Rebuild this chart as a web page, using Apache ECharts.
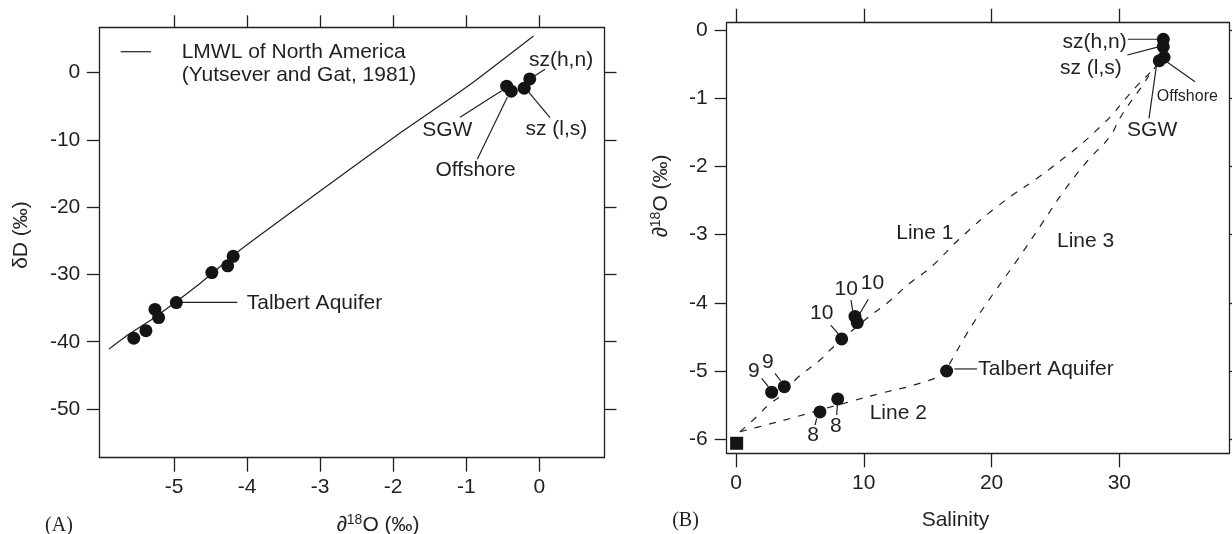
<!DOCTYPE html>
<html><head><meta charset="utf-8">
<script src="https://cdn.jsdelivr.net/npm/echarts@6/dist/echarts.min.js"></script>
<style>html,body{margin:0;padding:0;background:#fff}#c{width:1232px;height:534px}</style>
</head><body><div id="c"></div>
<script>
// ---------- Panel A: dD vs d18O ----------
const lmwlO18 = [-5.89, -5.6, -5.28, -4.64, -4.1, -3.0, -1.91, -0.99, -0.08];
const lmwlD   = [-41.1, -38.75, -36.5, -31.3, -26.4, -17.6, -9.0, -2.1, 5.46];
const sampleO18 = [-5.55, -5.384, -5.26, -5.21, -4.968, -4.482, -4.265, -4.19, -0.447, -0.384, -0.207, -0.131];
const sampleD   = [-39.48, -38.35, -35.2, -36.4, -34.18, -29.72, -28.72, -27.3, -2.0, -2.75, -2.3, -0.92];
const xTicksA = [-5, -4, -3, -2, -1, 0];
const yTicksA = [0, -10, -20, -30, -40, -50];

// ---------- Panel B: d18O vs salinity ----------
const salinity = [2.79, 3.78, 8.27, 9.31, 9.49, 6.57, 7.96, 16.48, 33.44, 33.44, 33.13, 33.5];
const o18B     = [-5.31, -5.23, -4.53, -4.20, -4.29, -5.60, -5.41, -5.0, -0.136, -0.245, -0.45, -0.40];
const freshSalinity = [0.05];
const freshO18 = [-6.06];
const line1Sal = [0.31, 1.62, 2.53, 3.58, 4.75, 6.57, 7.49, 10.23, 11.79, 13.62, 15.3, 17.4, 20.5, 24.6, 28.5, 31.23, 32.53, 33.1];
const line1O   = [-5.89, -5.67, -5.50, -5.35, -5.11, -4.84, -4.67, -4.23, -4.01, -3.71, -3.47, -3.08, -2.58, -2.03, -1.42, -0.85, -0.6, -0.48];
const line2Sal = [0.31, 2.4, 4.75, 6.6, 8.92, 11.27, 13.88, 15.97];
const line2O   = [-5.89, -5.79, -5.67, -5.57, -5.45, -5.33, -5.21, -5.08];
const line3Sal = [16.7, 18.4, 20.2, 22.1, 23.9, 25.7, 27.6, 29.27, 30.05, 30.97, 31.75, 32.53, 33.1];
const line3O   = [-4.9, -4.35, -3.85, -3.35, -2.85, -2.35, -1.9, -1.56, -1.29, -1.03, -0.83, -0.61, -0.48];
const xTicksB = [0, 10, 20, 30];
const yTicksB = [0, -1, -2, -3, -4, -5, -6];

const FONT = '"Liberation Sans", Arial, Helvetica, sans-serif';
const SERIF = '"Liberation Serif", "Times New Roman", serif';
const INK = '#231f20';
const FS = 21;
const zip = (a, b) => a.map((v, i) => [v, b[i]]);

function mkAxis(gridIndex, position, min, max, ticks, showLabel, tickLen) {
  return {
    type: 'value', gridIndex, position, min, max, scale: true,
    axisLine: { show: true, onZero: false, lineStyle: { color: INK, width: 1.3 } },
    axisTick: { show: true, inside: false, length: tickLen, customValues: ticks, lineStyle: { color: INK, width: 1.3 } },
    axisLabel: { show: showLabel, customValues: ticks, color: INK, fontSize: FS, fontFamily: FONT, margin: 19 },
    splitLine: { show: false }
  };
}

const chart = echarts.init(document.getElementById('c'), null, { renderer: 'canvas' });

const dot = { color: '#141414', opacity: 1 };
const option = {
  animation: false,
  backgroundColor: '#fff',
  grid: [
    { left: 99.3, top: 27.3, width: 504.7, height: 430.4 },
    { left: 726.7, top: 22.7, width: 502.8, height: 430.6 }
  ],
  xAxis: [
    mkAxis(0, 'bottom', -6.022, 0.885, xTicksA, true, 14),
    mkAxis(0, 'top', -6.022, 0.885, xTicksA, false, 12),
    mkAxis(1, 'bottom', -0.728, 38.62, xTicksB, true, 14),
    mkAxis(1, 'top', -0.728, 38.62, xTicksB, false, 14)
  ],
  yAxis: [
    mkAxis(0, 'left', -57.24, 6.75, yTicksA, true, 12.5),
    mkAxis(0, 'right', -57.24, 6.75, yTicksA, false, 12.5),
    mkAxis(1, 'left', -6.207, 0.107, yTicksB, true, 12),
    mkAxis(1, 'right', -6.207, 0.107, yTicksB, false, 12)
  ],
  series: [
    { type: 'line', xAxisIndex: 0, yAxisIndex: 0, data: zip(lmwlO18, lmwlD), showSymbol: false, smooth: 0.2,
      lineStyle: { color: INK, width: 1.2 }, silent: true, z: 2 },
    { type: 'scatter', xAxisIndex: 0, yAxisIndex: 0, data: zip(sampleO18, sampleD), symbol: 'circle', symbolSize: 13,
      itemStyle: dot, z: 3 },
    { type: 'line', xAxisIndex: 2, yAxisIndex: 2, data: zip(line1Sal, line1O), showSymbol: false, smooth: 0.5,
      lineStyle: { color: INK, width: 1.2, type: [7, 8] }, z: 2 },
    { type: 'line', xAxisIndex: 2, yAxisIndex: 2, data: zip(line2Sal, line2O), showSymbol: false, smooth: 0.4,
      lineStyle: { color: INK, width: 1.2, type: [7, 8] }, z: 2 },
    { type: 'line', xAxisIndex: 2, yAxisIndex: 2, data: zip(line3Sal, line3O), showSymbol: false, smooth: 0.4,
      lineStyle: { color: INK, width: 1.2, type: [7, 8] }, z: 2 },
    { type: 'scatter', xAxisIndex: 2, yAxisIndex: 2, data: zip(salinity, o18B), symbol: 'circle', symbolSize: 13,
      itemStyle: dot, z: 3 },
    { type: 'scatter', xAxisIndex: 2, yAxisIndex: 2, data: zip(freshSalinity, freshO18), symbol: 'rect', symbolSize: 13,
      itemStyle: dot, z: 3 }
  ]
};
chart.setOption(option);

// ---------- annotations (positions in data coordinates of each panel) ----------
const annotations = [
  // panel A
  { g: 0, text: 'sz(h,n)', at: [0.297, 1.89], align: 'center', leader: [[0.078, 0.51], [-0.082, -0.59]] },
  { g: 0, text: 'sz (l,s)', at: [0.233, -8.42], align: 'center', leader: [[0.146, -6.69], [-0.151, -2.82]] },
  { g: 0, text: 'SGW', at: [-1.26, -8.52], align: 'center', leader: [[-1.085, -6.63], [-0.515, -2.68]] },
  { g: 0, text: 'Offshore', at: [-0.873, -14.57], align: 'center', leader: [[-0.849, -12.88], [-0.438, -3.66]] },
  { g: 0, text: 'Talbert Aquifer', at: [-4.004, -34.2], align: 'left', leader: [[-4.895, -34.14], [-4.134, -34.14]] },
  { g: 0, text: 'LMWL of North America', at: [-4.895, 3.12], align: 'left', leader: [[-5.729, 3.12], [-5.314, 3.12]] },
  { g: 0, text: '(Yutsever and Gat, 1981)', at: [-4.895, -0.34], align: 'left' },
  // panel B
  { g: 1, text: 'sz(h,n)', at: [30.58, -0.172], align: 'right', leader: [[30.66, -0.136], [33.13, -0.136]] },
  { g: 1, text: 'sz (l,s)', at: [30.19, -0.562], align: 'right', leader: [[30.63, -0.367], [33.13, -0.245]] },
  { g: 1, text: 'Offshore', at: [32.93, -0.978], align: 'left', size: 16, leader: [[33.71, -0.465], [35.92, -0.758]] },
  { g: 1, text: 'SGW', at: [32.57, -1.466], align: 'center', leader: [[32.93, -0.488], [32.32, -1.295]] },
  { g: 1, text: 'Line 1', at: [14.78, -2.977], align: 'center' },
  { g: 1, text: 'Line 3', at: [27.36, -3.091], align: 'center' },
  { g: 1, text: 'Line 2', at: [12.70, -5.613], align: 'center' },
  { g: 1, text: 'Talbert Aquifer', at: [18.96, -4.97], align: 'left', leader: [[17.1, -4.97], [18.86, -4.97]] },
  { g: 1, text: '10', at: [6.71, -4.154], align: 'center', leader: [[7.41, -4.326], [8.01, -4.457]] },
  { g: 1, text: '10', at: [8.62, -3.80], align: 'center', leader: [[9.0, -3.959], [9.18, -4.179]] },
  { g: 1, text: '10', at: [10.68, -3.714], align: 'center', leader: [[10.35, -3.949], [9.70, -4.154]] },
  { g: 1, text: '9', at: [1.39, -4.996], align: 'center', leader: [[2.01, -5.107], [2.53, -5.23]] },
  { g: 1, text: '9', at: [2.50, -4.864], align: 'center', leader: [[3.05, -5.034], [3.50, -5.147]] },
  { g: 1, text: '8', at: [6.04, -5.938], align: 'center', leader: [[6.18, -5.792], [6.32, -5.694]] },
  { g: 1, text: '8', at: [7.81, -5.806], align: 'center', leader: [[7.88, -5.645], [7.93, -5.499]] }
];

const graphics = [];
annotations.forEach(a => {
  const p = chart.convertToPixel({ gridIndex: a.g }, a.at);
  graphics.push({ type: 'text', x: p[0], y: p[1], z: 10, silent: true,
    style: { text: a.text, fill: INK, fontSize: a.size || FS, fontFamily: FONT, align: a.align, verticalAlign: 'middle' } });
  if (a.leader) {
    const p1 = chart.convertToPixel({ gridIndex: a.g }, a.leader[0]);
    const p2 = chart.convertToPixel({ gridIndex: a.g }, a.leader[1]);
    graphics.push({ type: 'line', z: 9, silent: true, shape: { x1: p1[0], y1: p1[1], x2: p2[0], y2: p2[1] },
      style: { stroke: INK, lineWidth: 1.2 } });
  }
});

// axis titles and panel tags
const rich = { n: { fontSize: FS, fontFamily: FONT, fill: INK, verticalAlign: 'bottom', lineHeight: 25 },
               s: { fontSize: 14, fontFamily: FONT, fill: INK, verticalAlign: 'bottom', lineHeight: 25, padding: [0, 0, 8, 0] } };
graphics.push(
  { type: 'text', x: 378, y: 523, silent: true, style: { text: '{n|∂}{s|18}{n|O (‰)}', rich, align: 'center', verticalAlign: 'middle' } },
  { type: 'text', x: 955.5, y: 520, silent: true, style: { text: 'Salinity', fill: INK, fontSize: FS, fontFamily: FONT, align: 'center', verticalAlign: 'middle' } },
  { type: 'text', x: 21, y: 235, rotation: Math.PI / 2, silent: true, style: { text: 'δD (‰)', fill: INK, fontSize: FS, fontFamily: FONT, align: 'center', verticalAlign: 'middle' } },
  { type: 'text', x: 659, y: 196, rotation: Math.PI / 2, silent: true, style: { text: '{n|∂}{s|18}{n|O (‰)}', rich, align: 'center', verticalAlign: 'middle' } },
  { type: 'text', x: 59, y: 526, silent: true, style: { text: '(A)', fill: INK, fontSize: 20, fontFamily: SERIF, align: 'center', verticalAlign: 'middle' } },
  { type: 'text', x: 685.5, y: 521, silent: true, style: { text: '(B)', fill: INK, fontSize: 20, fontFamily: SERIF, align: 'center', verticalAlign: 'middle' } }
);
chart.setOption({ graphic: graphics });
</script></body></html>
